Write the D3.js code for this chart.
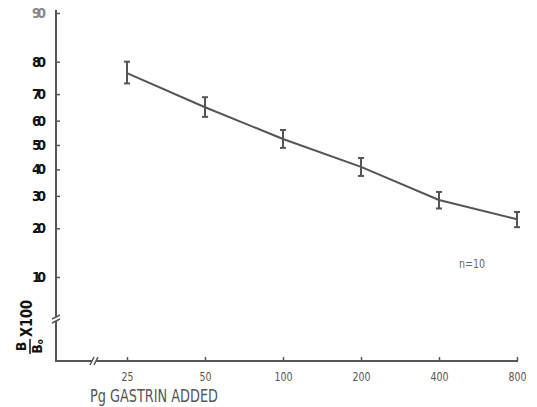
<!DOCTYPE html>
<html>
<head>
<meta charset="utf-8">
<script src="https://cdn.jsdelivr.net/npm/d3@7"></script>
<style>
  body { margin: 0; background: #fff; }
  svg { display: block; }
  text { font-family: "DejaVu Sans", sans-serif; font-stretch: condensed; }
</style>
</head>
<body>
<script>
// values
const doses = [25, 50, 100, 200, 400, 800];
const boundPct = [76.8, 65.2, 52.5, 41.0, 28.6, 22.5];
const boundSe = [3.2, 3.7, 3.7, 3.6, 2.8, 2.2];
const yTicks = [10, 20, 30, 40, 50, 60, 70, 80, 90];

const width = 537;
const height = 407;
const axisX = 56;
const axisY = 361;

const svg = d3
  .select("body")
  .append("svg")
  .attr("width", width)
  .attr("height", height);

const logit = (p) => Math.log(p / (100 - p));

const xScale = d3.scaleLog().base(2).domain([25, 800]).range([127, 517]);

const yLin = d3
  .scaleLinear()
  .domain([logit(10), logit(90)])
  .range([277, 13]);
const yScale = (p) => yLin(logit(p));

// y axis ticks + labels
const yAxis = d3
  .axisLeft(yLin)
  .tickValues(yTicks.map(logit))
  .tickFormat((v) => Math.round(100 / (1 + Math.exp(-v))))
  .tickSizeInner(-4)
  .tickSizeOuter(0)
  .tickPadding(10);

const gy = svg
  .append("g")
  .attr("transform", `translate(${axisX},0)`)
  .call(yAxis);
gy.select(".domain").remove();
gy.selectAll(".tick line").attr("stroke", "#555").attr("stroke-width", 1.5);
gy.selectAll(".tick text")
  .attr("fill", (d, i) => (i === yTicks.length - 1 ? "#888" : "#111"))
  .attr("textLength", 14)
  .attr("lengthAdjust", "spacing")
  .style("font-size", "14px")
  .style("font-weight", "bold");

// x axis ticks + labels
const xAxis = d3
  .axisBottom(xScale)
  .tickValues(doses)
  .tickFormat((d) => d)
  .tickSizeInner(-4)
  .tickSizeOuter(0)
  .tickPadding(11);

const gx = svg
  .append("g")
  .attr("transform", `translate(0,${axisY})`)
  .call(xAxis);
gx.select(".domain").remove();
gx.selectAll(".tick line").attr("stroke", "#555").attr("stroke-width", 1.5);
gx.selectAll(".tick text")
  .attr("fill", "#555")
  .attr("textLength", (d) => String(d).length * 6)
  .attr("lengthAdjust", "spacingAndGlyphs")
  .style("font-size", "13px");

// axis lines with breaks
const axisColor = "#555";
const yBreak = 319;
const xBreak = 94;

svg.append("line")
  .attr("x1", axisX).attr("x2", axisX)
  .attr("y1", 10).attr("y2", yBreak - 2)
  .attr("stroke", axisColor).attr("stroke-width", 2);
svg.append("line")
  .attr("x1", axisX).attr("x2", axisX)
  .attr("y1", yBreak + 2).attr("y2", axisY)
  .attr("stroke", axisColor).attr("stroke-width", 2);
[-2, 2].forEach((o) => {
  svg.append("line")
    .attr("x1", axisX - 4).attr("x2", axisX + 4)
    .attr("y1", yBreak + o + 2).attr("y2", yBreak + o - 2)
    .attr("stroke", axisColor).attr("stroke-width", 1.5);
});

svg.append("line")
  .attr("x1", axisX - 1).attr("x2", xBreak - 2)
  .attr("y1", axisY).attr("y2", axisY)
  .attr("stroke", axisColor).attr("stroke-width", 2);
svg.append("line")
  .attr("x1", xBreak + 2).attr("x2", 518)
  .attr("y1", axisY).attr("y2", axisY)
  .attr("stroke", axisColor).attr("stroke-width", 2);
[-2, 2].forEach((o) => {
  svg.append("line")
    .attr("x1", xBreak + o - 2).attr("x2", xBreak + o + 2)
    .attr("y1", axisY + 4).attr("y2", axisY - 4)
    .attr("stroke", axisColor).attr("stroke-width", 1.5);
});

// data line
const pts = doses.map((d, i) => [xScale(d), yScale(boundPct[i])]);
svg.append("path")
  .attr("d", d3.line()(pts))
  .attr("fill", "none")
  .attr("stroke", "#555")
  .attr("stroke-width", 2);

// error bars
const eb = svg.append("g").attr("stroke", "#555").attr("stroke-width", 2);
doses.forEach((d, i) => {
  const x = xScale(d);
  const yt = yScale(boundPct[i] + boundSe[i]);
  const yb = yScale(boundPct[i] - boundSe[i]);
  eb.append("line").attr("x1", x).attr("x2", x).attr("y1", yt).attr("y2", yb);
  eb.append("line").attr("x1", x - 3).attr("x2", x + 3).attr("y1", yt).attr("y2", yt);
  eb.append("line").attr("x1", x - 3).attr("x2", x + 3).attr("y1", yb).attr("y2", yb);
});

// n = 10
svg.append("text")
  .attr("x", 472).attr("y", 268)
  .attr("text-anchor", "middle")
  .attr("fill", "#666")
  .attr("textLength", 26)
  .attr("lengthAdjust", "spacingAndGlyphs")
  .style("font-size", "13px")
  .text("n=10");

// x title
svg.append("text")
  .attr("x", 90).attr("y", 402)
  .attr("fill", "#555")
  .attr("textLength", 128)
  .attr("lengthAdjust", "spacingAndGlyphs")
  .style("font-size", "18px")
  .text("Pg GASTRIN ADDED");

// y title (B / B° X100), rotated
const yl = svg.append("g").attr("transform", "translate(30,353) rotate(-90)");
yl.append("text")
  .attr("x", 6.5).attr("y", -4)
  .attr("text-anchor", "middle")
  .attr("fill", "#111")
  .style("font-size", "14px")
  .style("font-weight", "bold")
  .text("B");
yl.append("line")
  .attr("x1", -1).attr("x2", 14)
  .attr("y1", 0).attr("y2", 0)
  .attr("stroke", "#111").attr("stroke-width", 1.5);
const den = yl.append("text")
  .attr("x", 6.5).attr("y", 12)
  .attr("text-anchor", "middle")
  .attr("fill", "#111")
  .style("font-size", "14px")
  .style("font-weight", "bold");
den.append("tspan").text("B");
den.append("tspan").attr("dy", 1).style("font-size", "8px").text("o");
yl.append("text")
  .attr("x", 16).attr("y", 2)
  .attr("fill", "#111")
  .attr("textLength", 37)
  .attr("lengthAdjust", "spacingAndGlyphs")
  .style("font-size", "15px")
  .style("font-weight", "bold")
  .text("X100");
</script>
</body>
</html>
